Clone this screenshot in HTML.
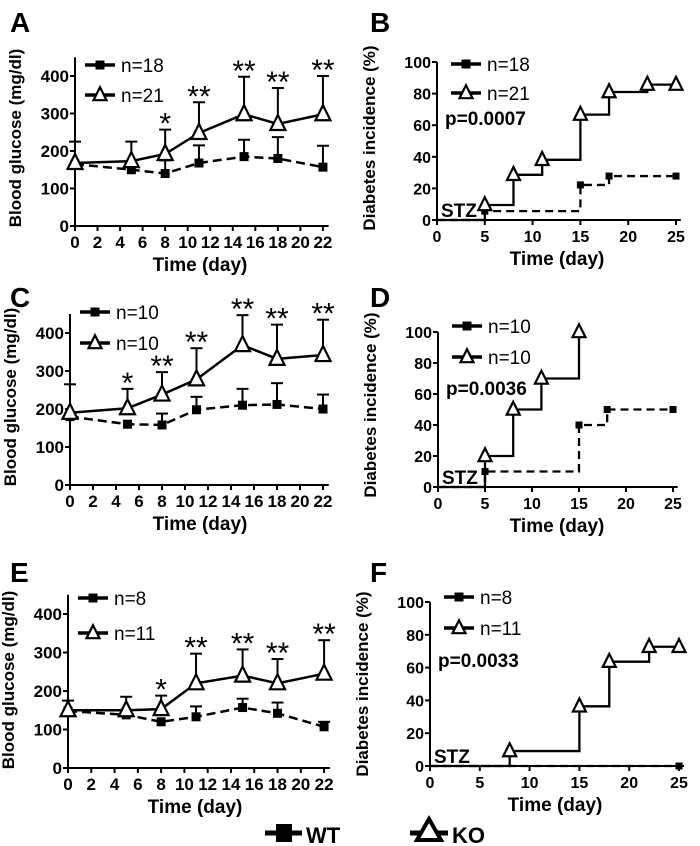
<!DOCTYPE html>
<html><head><meta charset="utf-8"><style>
body{margin:0;background:#fff}
svg{display:block;font-family:"Liberation Sans",Arial,sans-serif}
</style></head><body>
<svg id="fig" width="700" height="846" viewBox="0 0 700 846">
<g font-weight="bold" font-size="28">
<text x="10" y="32">A</text>
<text x="370" y="32">B</text>
<text x="10" y="307">C</text>
<text x="370" y="307">D</text>
<text x="10" y="582">E</text>
<text x="370" y="582">F</text>
</g>
<g>
<line x1="265" y1="833" x2="302" y2="833" stroke="#000" stroke-width="5"/>
<rect x="276" y="824" width="16" height="18" fill="#000"/>
<text x="306" y="843" font-size="22" font-weight="bold">WT</text>
<line x1="410" y1="833" x2="448" y2="833" stroke="#000" stroke-width="5"/>
<polygon points="429,819 441,840 417,840" fill="#fff" stroke="#000" stroke-width="4"/>
<text x="452" y="843" font-size="22" font-weight="bold">KO</text>
</g>
</svg>
<script>
// Blood glucose panels (A, C, E)
const days = [0,5,8,11,15,18,22];
const aWT = [165,150,140,168,185,180,157];
const aWTerr = [0,0,35,47,45,57,57];
const aKO = [168,173,192,248,298,272,298];
const aKOerr = [57,52,65,82,100,96,102];
const aStars = ["","","*","**","**","**","**"];
const cWT = [180,160,158,198,210,212,200];
const cWTerr = [0,0,30,34,43,56,38];
const cKO = [190,202,238,278,368,332,342];
const cKOerr = [75,51,59,82,79,90,93];
const cStars = ["","*","**","**","**","**","**"];
const eWT = [148,138,120,133,157,142,107];
const eWTerr = [0,0,0,27,23,28,13];
const eKO = [150,150,153,220,240,220,245];
const eKOerr = [25,35,35,77,68,63,87];
const eStars = ["","","*","**","**","**","**"];
const glucoseTicksX = [0,2,4,6,8,10,12,14,16,18,20,22];
const glucoseTicksY = [0,100,200,300,400];
// Incidence panels (B, D, F)
const bKOt = [0,5,8,11,15,18,22,25];
const bKOv = [0,9.5,28.6,38.1,66.7,81,85.7,85.7];
const bWTt = [0,5,15,18,25];
const bWTv = [0,5.6,22.2,27.8,27.8];
const dKOt = [0,5,8,11,15];
const dKOv = [0,20,50,70,100];
const dWTt = [0,5,15,18,25];
const dWTv = [0,10,40,50,50];
const fKOt = [0,8,15,18,22,25];
const fKOv = [0,9.1,36.4,63.6,72.7,72.7];
const fWTt = [0,25];
const fWTv = [0,0];
const incTicksX = [0,5,10,15,20,25];
const incTicksY = [0,20,40,60,80,100];

const NS="http://www.w3.org/2000/svg";
const svg=document.getElementById('fig');
function mk(tag,attrs,parent,txt){const e=document.createElementNS(NS,tag);for(const k in attrs)e.setAttribute(k,attrs[k]);if(txt!==undefined)e.textContent=txt;(parent||svg).appendChild(e);return e;}
function square(g,x,y,s){const r=mk('rect',{x:x-s/2,y:y-s/2,width:s,height:s,fill:'#000'},g);}
function tri(g,x,y,s){const p=mk('polygon',{points:`${x},${y-s*0.6} ${x+s/2},${y+s*0.4} ${x-s/2},${y+s*0.4}`,fill:'#fff',stroke:'#000','stroke-width':2.2},g);}

function axes(g,P,ticksX,ticksY,ytitle,ytx,fs){
  const X=v=>P.ox+v*P.xs, Y=v=>P.oy-v*P.ys;
  const ax=mk('line',{x1:P.ox,y1:P.oy,x2:X(P.xmax),y2:P.oy,stroke:'#000','stroke-width':2},g);
  
  const ay=mk('line',{x1:P.ox,y1:P.oy,x2:P.ox,y2:Y(P.ymax),stroke:'#000','stroke-width':2},g);
  
  ticksX.forEach(t=>{mk('line',{x1:X(t),y1:P.oy,x2:X(t),y2:P.oy+5,stroke:'#000','stroke-width':2},g);
    const tx=mk('text',{x:X(t),y:P.oy+22,'text-anchor':'middle','font-size':fs,'font-weight':'bold'},g,t);
    });
  ticksY.forEach(t=>{mk('line',{x1:P.ox-5,y1:Y(t),x2:P.ox,y2:Y(t),stroke:'#000','stroke-width':2},g);
    const ty=mk('text',{x:P.ox-6,y:Y(t)+6,'text-anchor':'end','font-size':fs,'font-weight':'bold'},g,t);
    });
  const xt=mk('text',{x:P.xtx,y:P.oy+45,'text-anchor':'middle','font-size':19,'font-weight':'bold'},g,'Time (day)');
  
  const cy=P.oy-P.ytc;
  const yt=mk('text',{x:0,y:0,transform:`translate(${ytx},${cy}) rotate(-90)`,'text-anchor':'middle','font-size':P.ytfs,'font-weight':'bold'},g,ytitle);
  
  return [X,Y];
}
function legend(g,x,y1,y2,n1,n2){
  mk('line',{x1:x,y1:y1,x2:x+30,y2:y1,stroke:'#000','stroke-width':3.5},g);square(g,x+15,y1,9);
  const t1=mk('text',{x:x+36,y:y1+7,'font-size':19},g,n1);
  mk('line',{x1:x,y1:y2,x2:x+30,y2:y2,stroke:'#000','stroke-width':3.5},g);tri(g,x+15,y2,13);
  const t2=mk('text',{x:x+36,y:y2+7,'font-size':19},g,n2);
}
function glucose(name,P,wt,wte,ko,koe,stars,n1,n2,ly1,ly2){
  const g=mk('g',{});
  const [X,Y]=axes(g,P,glucoseTicksX,glucoseTicksY,'Blood glucose (mg/dl)',P.ox-54,17);
  days.forEach((d,i)=>{
    if(wte[i]>0){mk('line',{x1:X(d),y1:Y(wt[i]),x2:X(d),y2:Y(wt[i]+wte[i]),stroke:'#000','stroke-width':2},g);mk('line',{x1:X(d)-6,y1:Y(wt[i]+wte[i]),x2:X(d)+6,y2:Y(wt[i]+wte[i]),stroke:'#000','stroke-width':2},g);}
    if(koe[i]>0){mk('line',{x1:X(d),y1:Y(ko[i]),x2:X(d),y2:Y(ko[i]+koe[i]),stroke:'#000','stroke-width':2},g);mk('line',{x1:X(d)-6,y1:Y(ko[i]+koe[i]),x2:X(d)+6,y2:Y(ko[i]+koe[i]),stroke:'#000','stroke-width':2},g);}
    if(stars[i]){const s=mk('text',{x:X(d),y:Y(ko[i]+koe[i])+4,'text-anchor':'middle','font-size':30},g,stars[i]);}
  });
  const wl=mk('polyline',{points:days.map((d,i)=>X(d)+','+Y(wt[i])).join(' '),fill:'none',stroke:'#000','stroke-width':2.5,'stroke-dasharray':'9,5'},g);
  
  const kl=mk('polyline',{points:days.map((d,i)=>X(d)+','+Y(ko[i])).join(' '),fill:'none',stroke:'#000','stroke-width':2.5},g);
  
  days.forEach((d,i)=>square(g,X(d),Y(wt[i]),9));
  days.forEach((d,i)=>tri(g,X(d),Y(ko[i]),15));
  legend(g,P.ox+10,ly1,ly2,n1,n2);
}
function step(t,v,X,Y){let s=`M${X(t[0])},${Y(v[0])}`;for(let i=1;i<t.length;i++)s+=` H${X(t[i])} V${Y(v[i])}`;return s;}
function incidence(name,P,kt,kv,wt,wv,n1,n2,p,ly1,ly2,py){
  const g=mk('g',{});
  const [X,Y]=axes(g,P,incTicksX,incTicksY,'Diabetes incidence (%)',P.ox-62,16);
  const stz=mk('text',{x:P.ox+4,y:P.oy-3,'font-size':19,'font-weight':'bold'},g,'STZ');
  
  const wl=mk('path',{d:step(wt,wv,X,Y),fill:'none',stroke:'#000','stroke-width':2.3,'stroke-dasharray':'8,5'},g);
  
  const kl=mk('path',{d:step(kt,kv,X,Y),fill:'none',stroke:'#000','stroke-width':2.3},g);
  
  wt.forEach((t,i)=>{if(i>0)square(g,X(t),Y(wv[i]),7);});
  kt.forEach((t,i)=>{if(i>0)tri(g,X(t),Y(kv[i]),13);});
  legend(g,P.ox+14,ly1,ly2,n1,n2);
  const pt=mk('text',{x:P.ox+8,y:py,'font-size':19,'font-weight':'bold'},g,p);
  
}
glucose('panel-a',{ox:75,oy:226,xs:11.27,ys:0.375,xmax:22.5,ymax:450,xtx:200,ytfs:17,ytc:88},aWT,aWTerr,aKO,aKOerr,aStars,'n=18','n=21',65,95);
glucose('panel-c',{ox:70,oy:485,xs:11.5,ys:0.38,xmax:22.5,ymax:450,xtx:200,ytfs:17,ytc:88},cWT,cWTerr,cKO,cKOerr,cStars,'n=10','n=10',312,343);
glucose('panel-e',{ox:68,oy:768,xs:11.64,ys:0.385,xmax:22.5,ymax:450,xtx:195,ytfs:17,ytc:88},eWT,eWTerr,eKO,eKOerr,eStars,'n=8','n=11',598,633);
incidence('panel-b',{ox:437,oy:220,xs:9.56,ys:1.58,xmax:25.5,ymax:100,xtx:557,ytfs:17,ytc:82},bKOt,bKOv,bWTt,bWTv,'n=18','n=21','p=0.0007',64,93,125);
incidence('panel-d',{ox:438,oy:487,xs:9.4,ys:1.55,xmax:25.5,ymax:100,xtx:557,ytfs:17,ytc:82},dKOt,dKOv,dWTt,dWTv,'n=10','n=10','p=0.0036',326,357,395);
incidence('panel-f',{ox:430,oy:766,xs:9.96,ys:1.64,xmax:25.5,ymax:100,xtx:555,ytfs:17,ytc:82},fKOt,fKOv,fWTt,fWTv,'n=8','n=11','p=0.0033',597,628,667);
</script>
</body></html>
